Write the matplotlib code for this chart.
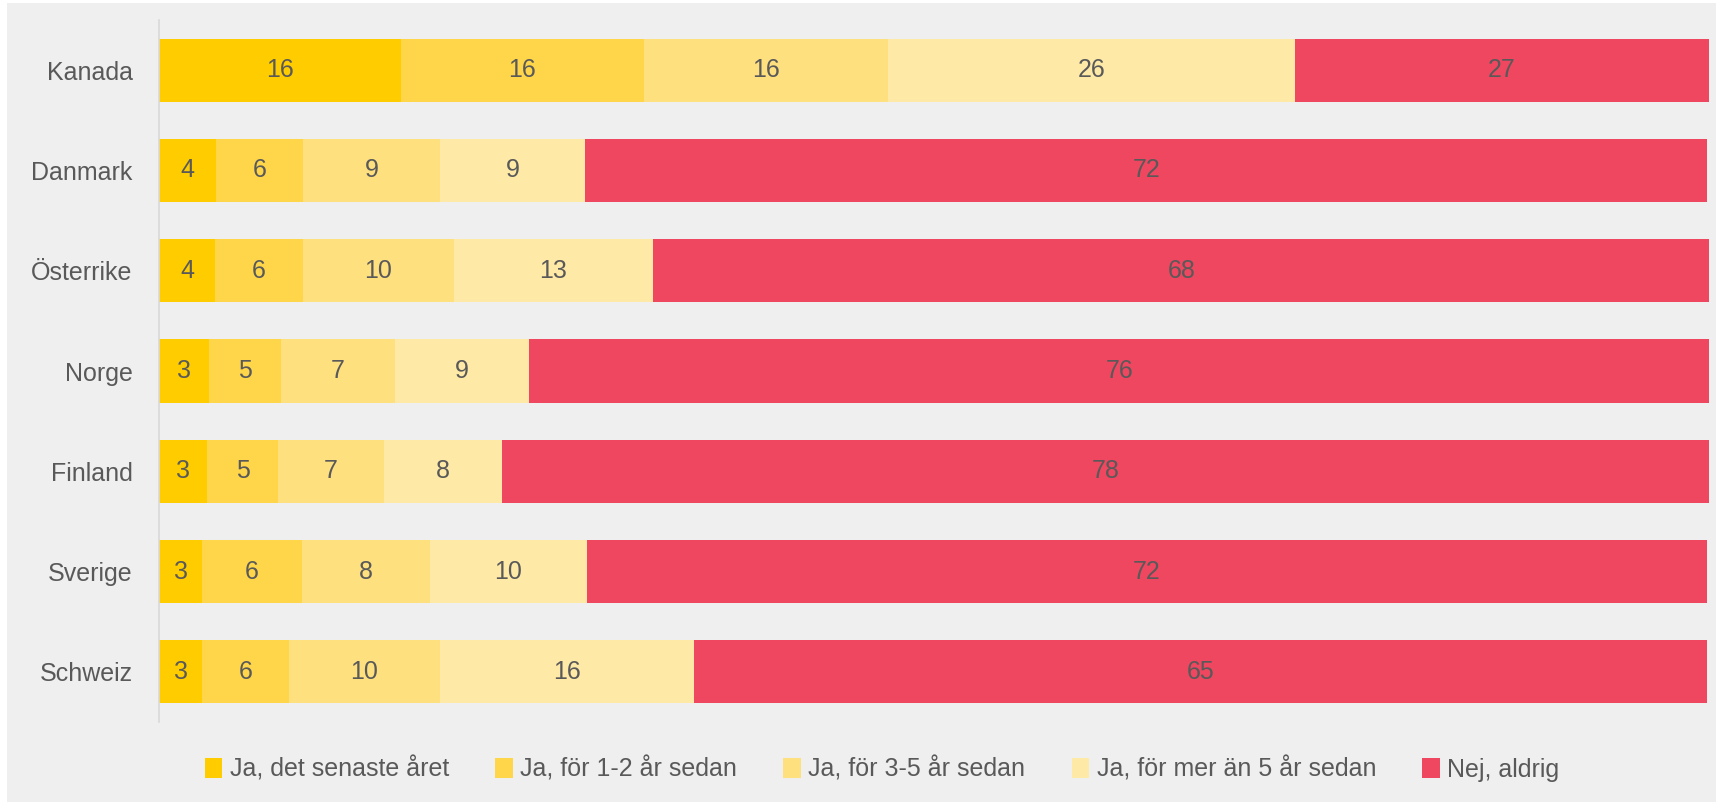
import matplotlib
matplotlib.use("Agg")
import matplotlib.pyplot as plt
from matplotlib.patches import Rectangle, Patch

countries = ["Kanada", "Danmark", "Österrike", "Norge", "Finland", "Sverige", "Schweiz"]
series_names = ["Ja, det senaste året", "Ja, för 1-2 år sedan", "Ja, för 3-5 år sedan",
                "Ja, för mer än 5 år sedan", "Nej, aldrig"]
senaste_aret = [15.6, 3.7, 3.6, 3.2, 3.1, 2.8, 2.8]
for_1_2_ar = [15.7, 5.6, 5.7, 4.7, 4.6, 6.4, 5.6]
for_3_5_ar = [15.7, 8.8, 9.7, 7.3, 6.8, 8.3, 9.7]
mer_an_5_ar = [26.3, 9.4, 12.9, 8.7, 7.6, 10.1, 16.4]
nej_aldrig = [26.7, 72.4, 68.1, 76.1, 78.0, 72.3, 65.4]
series = [senaste_aret, for_1_2_ar, for_3_5_ar, mer_an_5_ar, nej_aldrig]
colors = ["#FFCC00", "#FFD64A", "#FFE07E", "#FFE9A6", "#EF4760"]

plt.rcParams['font.family'] = ['Liberation Sans', 'DejaVu Sans']
text_color = "#595959"
bg = "#EFEFEF"

fig = plt.figure(figsize=(17.16, 8.02), dpi=100, facecolor="white")
fig.patches.append(Rectangle((7/1716, 0), 1 - 7/1716, 1 - 3/802, transform=fig.transFigure,
                             facecolor=bg, edgecolor="none", zorder=-10))
ax = fig.add_axes([159/1716, 1 - 722/802, 1550/1716, (722 - 20)/802])
ax.set_facecolor(bg)
ax.patch.set_alpha(0)

ypos = list(range(len(countries)))
left = [0.0] * len(countries)
for vals, col, name in zip(series, colors, series_names):
    bars = ax.barh(ypos, vals, left=left, height=0.63, color=col, edgecolor="none", label=name)
    for b, v, l in zip(bars, vals, left):
        ax.text(l + v / 2, b.get_y() + b.get_height() / 2, f"{v:.0f}", ha="center", va="center",
                fontsize=18, color=text_color)
    left = [a + b for a, b in zip(left, vals)]

ax.set_xlim(0, 100)
ax.set_ylim(len(countries) - 0.5, -0.5)
ax.set_yticks(ypos)
ax.set_yticklabels(countries, fontsize=18, color=text_color)
ax.tick_params(axis="y", length=0, pad=19)
ax.set_xticks([])
for s in ["top", "right", "bottom"]:
    ax.spines[s].set_visible(False)
ax.spines["left"].set_color("#D9D9D9")
ax.spines["left"].set_linewidth(1.2)

handles = [Patch(facecolor=c, edgecolor="none") for c in colors]
fig.legend(handles, series_names, loc="center", bbox_to_anchor=(0.514, 0.041), ncol=5,
           frameon=False, fontsize=18, labelcolor=text_color, handlelength=0.7, handleheight=0.9,
           handletextpad=0.3, columnspacing=1.85)

fig.savefig("out.png", dpi=100, facecolor="white")
